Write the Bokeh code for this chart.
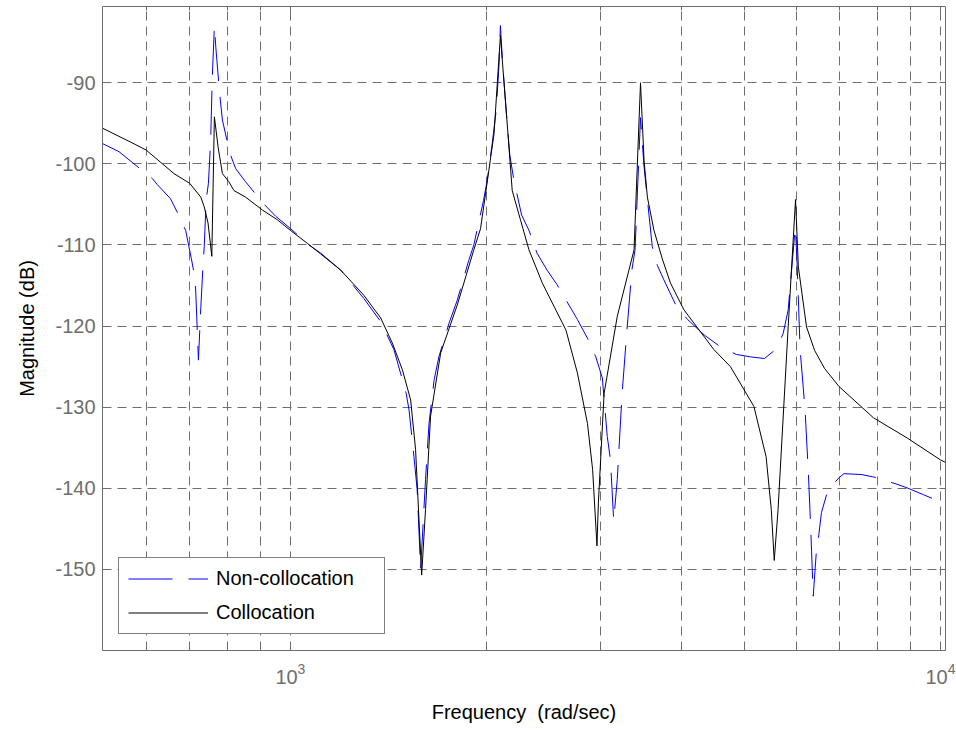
from bokeh.plotting import figure
from bokeh.models import FixedTicker, LinearAxis, Legend, LegendItem
from bokeh.embed import file_html
from bokeh.resources import INLINE

# Frequency response magnitude, rad/sec vs dB
freq_coll = [514, 577, 600, 662, 700, 728, 737, 747, 757, 764, 774, 786, 804, 819,
             853, 906, 955, 1000, 1062, 1113, 1195, 1297, 1377, 1435, 1487, 1531,
             1558, 1592, 1614, 1643, 1703, 1806, 1915, 1961, 1996, 2057, 2104, 2142,
             2194, 2259, 2328, 2441, 2654, 2764, 2864, 2917, 2962, 2977, 3038, 3183,
             3378, 3456, 3500, 3541, 3625, 3733, 3843, 4031, 4482, 4752, 5164, 5392,
             5492, 5550, 5626, 5831, 5985, 6045, 6222, 6403, 6630, 6981, 7885, 8888,
             10000, 10180]
mag_coll = [-95.6, -97.6, -98.3, -101.2, -102.4, -104.1, -105.3, -107.3, -111.4, -94.2,
            -97.9, -101.2, -102.2, -103.3, -104.1, -105.7, -106.9, -108.2, -109.8,
            -111.1, -113.1, -116.2, -119.0, -122.1, -125.4, -129.1, -135.2, -150.7,
            -142.6, -131.1, -123.3, -117.4, -110.6, -108.0, -103.7, -96.3, -84.2,
            -92.2, -103.3, -106.9, -110.6, -114.7, -120.5, -125.8, -132.0, -137.7,
            -147.1, -141.8, -128.3, -118.8, -110.6, -90.0, -99.6, -104.1, -108.2,
            -111.7, -114.7, -118.0, -122.9, -125.0, -129.9, -136.1, -142.6, -148.9,
            -142.6, -120.1, -104.4, -112.7, -120.1, -123.0, -125.2, -127.45, -131.3,
            -133.8, -136.5, -136.8]

freq_noncoll = [514, 545, 587, 613, 624, 654, 672, 690, 704, 711, 715, 722, 728, 734,
                737, 742, 748, 754, 758, 764, 768, 778, 786, 807, 824, 853, 909, 949,
                1001, 1068, 1113, 1195, 1297, 1377, 1443, 1507, 1522, 1549, 1567, 1586,
                1614, 1634, 1664, 1692, 1754, 1806, 1881, 1915, 1982, 2008, 2044, 2073,
                2094, 2104, 2121, 2149, 2175, 2207, 2268, 2328, 2395, 2482, 2572, 2764,
                2864, 2950, 3019, 3072, 3107, 3143, 3183, 3238, 3294, 3352, 3390, 3456,
                3500, 3525, 3603, 3668, 3754, 3916, 4084, 4331, 4594, 4854, 5103, 5361,
                5595, 5729, 5831, 5980, 6013, 6083, 6190, 6263, 6298, 6335, 6372, 6446,
                6500, 6560, 6713, 6981, 7102, 7546, 7885, 8122, 8570, 8888, 9420, 9948,
                10180]
mag_noncoll = [-97.5, -98.5, -100.6, -101.8, -102.55, -104.3, -106.2, -108.2, -111.65,
               -113.5, -115.55, -124.2, -117.8, -112.3, -110.2, -104.5, -102.4, -97.1,
               -89.7, -83.0, -85.7, -91.2, -94.6, -98.7, -100.6, -102.2, -104.9,
               -106.45, -108.0, -110.0, -111.0, -113.1, -116.6, -119.45, -122.9,
               -128.3, -130.3, -136.1, -140.2, -150.0, -138.9, -132.0, -126.6, -123.8,
               -119.65, -116.8, -111.9, -110.0, -104.5, -102.0, -97.5, -93.4, -87.7,
               -82.95, -87.7, -93.8, -98.9, -102.0, -106.3, -108.2, -111.0, -113.1,
               -114.9, -119.2, -121.5, -123.8, -126.4, -133.6, -136.5, -144.0, -138.9,
               -128.3, -120.5, -113.1, -110.6, -94.3, -100.4, -102.8, -110.2, -112.5,
               -114.3, -117.4, -119.2, -121.1, -122.6, -123.5, -123.8, -124.0, -122.8,
               -120.9, -118.0, -107.8, -111.45, -122.9, -130.3, -138.1, -142.6, -147.75,
               -153.3, -147.55, -145.7, -143.0, -140.2, -138.7, -138.2, -138.3, -138.6,
               -138.9, -139.5, -139.95, -140.8, -141.6, -141.8]

x_major = [1000, 10000]
x_minor = [600, 700, 800, 900, 2000, 3000, 4000, 5000, 6000, 7000, 8000, 9000]
y_ticks = [-150, -140, -130, -120, -110, -100, -90]
y_tick_labels = ["-150", "-140", "-130", "-120", "-110", "-100", "-90"]

FONT = "Liberation Sans"
AXIS_GRAY = "#6e6e6e"

p = figure(width=956, height=730, x_axis_type="log",
           x_range=(514, 10180), y_range=(-160, -80.6),
           output_backend="svg", toolbar_location=None,
           min_border_left=102, min_border_right=11,
           min_border_top=6, min_border_bottom=80,
           background_fill_color="white", border_fill_color="white")

p.outline_line_color = AXIS_GRAY
p.outline_line_width = 1

# axes
xa = p.xaxis[0]
xa.ticker = FixedTicker(ticks=x_major, minor_ticks=x_minor)
ya = p.yaxis[0]
ya.ticker = FixedTicker(ticks=y_ticks, minor_ticks=[])
ya.major_label_overrides = {t: s for t, s in zip(y_ticks, y_tick_labels)}

for ax in (xa, ya):
    ax.axis_line_color = AXIS_GRAY
    ax.major_tick_line_color = AXIS_GRAY
    ax.minor_tick_line_color = AXIS_GRAY
    ax.major_tick_in = 6
    ax.major_tick_out = 0
    ax.minor_tick_in = 4
    ax.minor_tick_out = 0
    ax.major_label_text_font = FONT
    ax.major_label_text_font_size = "20px"
    ax.major_label_text_color = AXIS_GRAY
    ax.axis_label_text_font = FONT
    ax.axis_label_text_font_size = "20px"
    ax.axis_label_text_font_style = "normal"
    ax.axis_label_text_color = "black"

xa.axis_label = "Frequency\u00a0 (rad/sec)"
xa.major_label_standoff = 12
xa.axis_label_standoff = 14
ya.axis_label = "Magnitude (dB)"
ya.major_label_standoff = 7
ya.axis_label_standoff = 14

# tick marks on the top and right edges of the box
top_ax = LinearAxis(ticker=FixedTicker(ticks=x_major, minor_ticks=x_minor))
right_ax = LinearAxis(ticker=FixedTicker(ticks=y_ticks, minor_ticks=[]))
for ax in (top_ax, right_ax):
    ax.axis_line_color = None
    ax.major_tick_line_color = AXIS_GRAY
    ax.minor_tick_line_color = AXIS_GRAY
    ax.major_tick_in = 6
    ax.major_tick_out = 0
    ax.minor_tick_in = 4
    ax.minor_tick_out = 0
    ax.major_label_text_font_size = "1px"
    ax.major_label_text_color = None
    ax.major_label_standoff = 0
p.add_layout(top_ax, "above")
p.add_layout(right_ax, "right")

# dashed grid
for g in (p.xgrid[0], p.ygrid[0]):
    g.grid_line_color = AXIS_GRAY
    g.grid_line_dash = "9 6"
    g.grid_line_width = 1
p.xgrid[0].minor_grid_line_color = AXIS_GRAY
p.xgrid[0].minor_grid_line_dash = "9 6"
p.xgrid[0].minor_grid_line_width = 1

r_non = p.line(freq_noncoll, mag_noncoll, line_color="#0000ff", line_width=1,
               line_dash="44 16")
r_col = p.line(freq_coll, mag_coll, line_color="black", line_width=1)

legend = Legend(items=[LegendItem(label="Non-collocation", renderers=[r_non]),
                       LegendItem(label="Collocation", renderers=[r_col])],
                location="bottom_left", margin=16, padding=9, spacing=11,
                glyph_width=80, glyph_height=23, label_height=23,
                label_width=159, label_standoff=8,
                label_text_font=FONT, label_text_font_size="20px",
                label_text_color="black",
                border_line_color="black", border_line_width=1,
                background_fill_color="white", background_fill_alpha=1)
p.add_layout(legend, "center")

open("out.html", "w").write(file_html(p, INLINE))
